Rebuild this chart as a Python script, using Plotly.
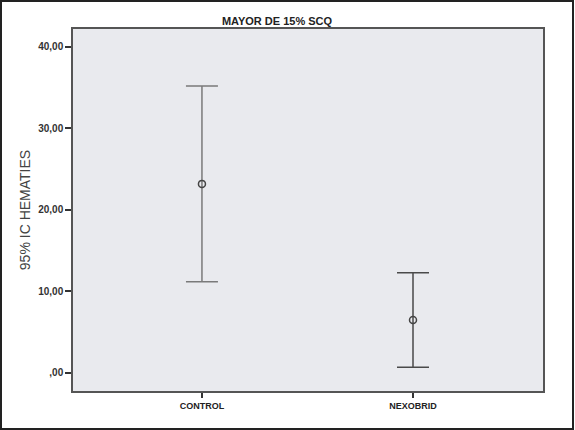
import plotly.graph_objects as go

# Group means and 95% CI bounds
categories = ["CONTROL", "NEXOBRID"]
means = [23.2, 6.5]
upper = [35.2, 12.3]
lower = [11.2, 0.7]

y_tickvals = [0, 10, 20, 30, 40]
y_ticktext = [",00", "10,00", "20,00", "30,00", "40,00"]

err_plus = [u - m for u, m in zip(upper, means)]
err_minus = [m - l for m, l in zip(means, lower)]

W, H = 575, 430
L, R, T, B = 73, 32, 29, 39

fig = go.Figure()

bar_colors = ["#7a7a7a", "#4a4a4a"]
for i, cat in enumerate(categories):
    fig.add_trace(go.Scatter(
        x=[cat],
        y=[means[i]],
        mode="markers",
        marker=dict(symbol="circle-open", size=7, color="#444444",
                    line=dict(width=1.5)),
        error_y=dict(type="data", symmetric=False,
                     array=[err_plus[i]], arrayminus=[err_minus[i]],
                     color=bar_colors[i], thickness=1.5, width=16),
        showlegend=False,
    ))

fig.update_xaxes(
    type="category",
    range=[-0.611, 1.616],
    showline=True, linecolor="#555555", linewidth=2, mirror=True,
    ticks="outside", ticklen=5, tickcolor="#333333", tickwidth=1.5,
    tickfont=dict(family="Liberation Sans, Arial", size=9, color="#222222",
                  weight="bold"),
    showgrid=False, zeroline=False,
)
fig.update_yaxes(
    range=[-2.21, 42.2],
    tickvals=y_tickvals, ticktext=y_ticktext,
    showline=True, linecolor="#555555", linewidth=1.5, mirror=True,
    ticks="outside", ticklen=6, tickcolor="#333333", tickwidth=1.5,
    tickfont=dict(family="Liberation Sans, Arial", size=10, color="#333333",
                  weight="bold"),
    showgrid=False, zeroline=False,
    title=dict(text="95% IC HEMATIES", standoff=4,
               font=dict(family="Liberation Sans, Arial", size=14,
                         color="#444444")),
)

# outer frame around the whole picture
pw, ph = W - L - R, H - T - B
fig.add_shape(type="rect", xref="paper", yref="paper",
              x0=(1 - L) / pw, x1=(573 - L) / pw,
              y0=(H - B - 429) / ph, y1=(H - B - 1) / ph,
              line=dict(color="#222222", width=2))

fig.update_layout(
    width=W, height=H,
    margin=dict(l=L, r=R, t=T, b=B),
    paper_bgcolor="white",
    plot_bgcolor="#e9eaee",
    title=dict(text="<b>MAYOR DE 15% SCQ</b>", x=277 / W, xref="container",
               xanchor="center", y=1 - 21 / H, yref="container",
               yanchor="middle",
               font=dict(family="Liberation Sans, Arial", size=11,
                         color="#222222")),
)

# drop the default page margin so the figure sits at the window origin
fig.write_html("out.html",
               config={"displayModeBar": False},
               post_script="document.body.style.margin='0';")
